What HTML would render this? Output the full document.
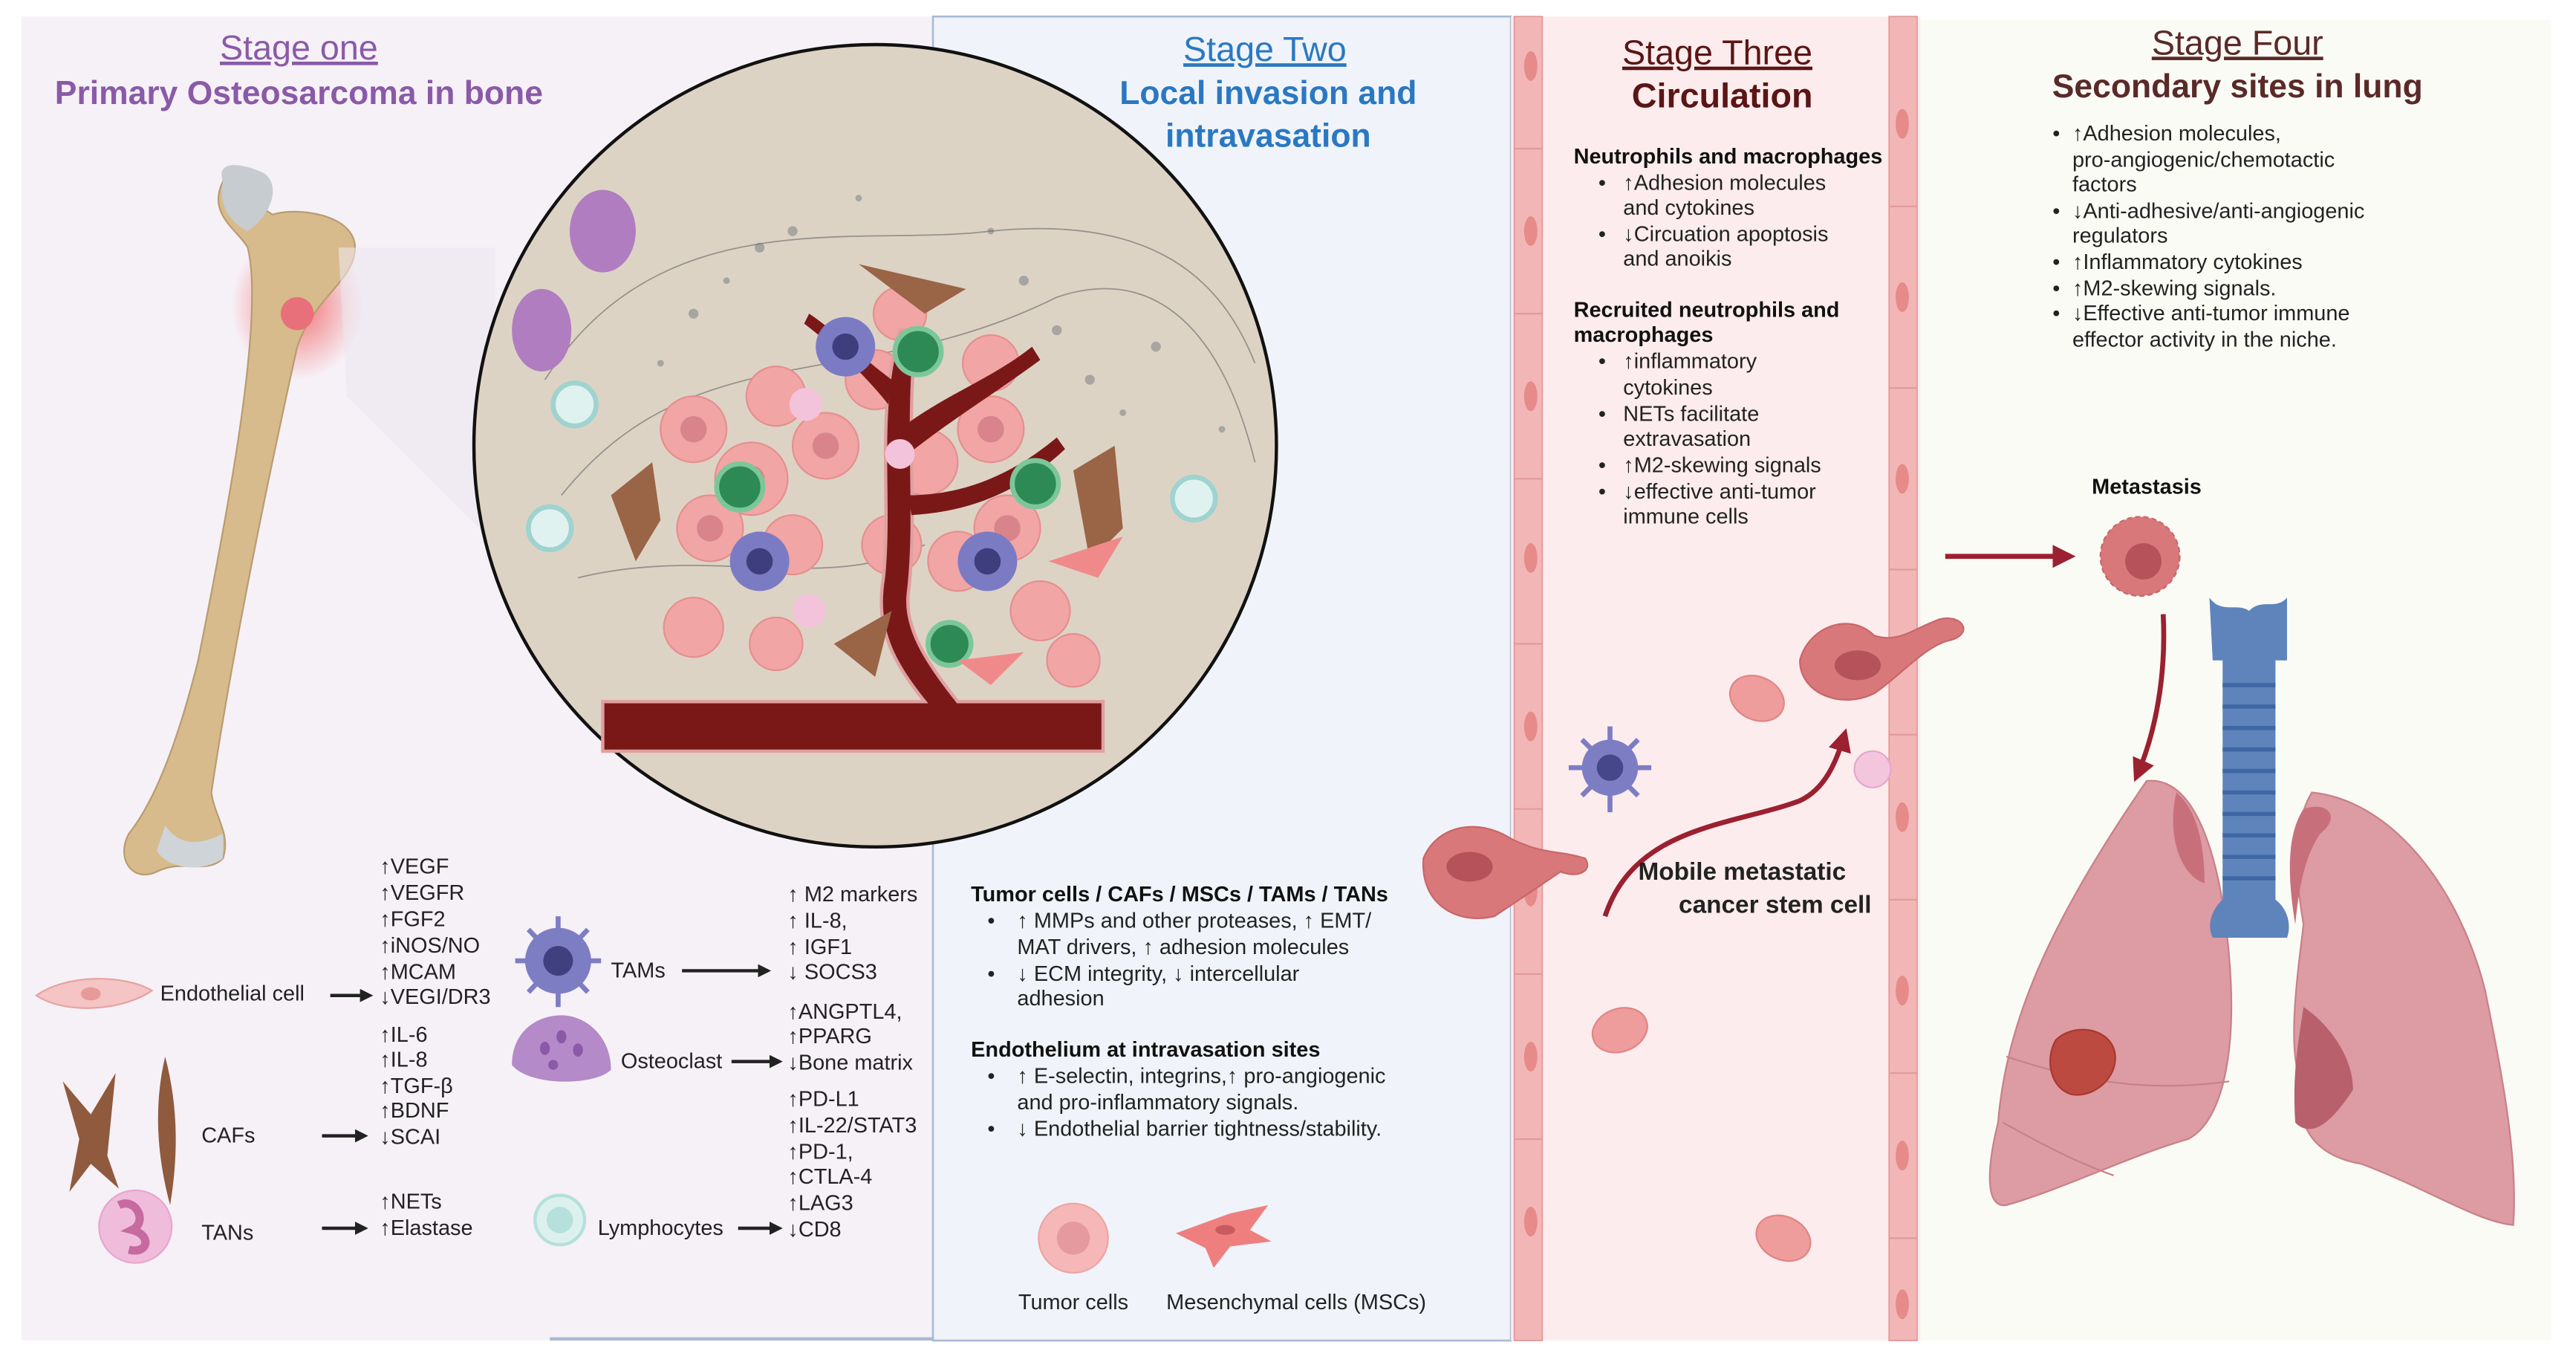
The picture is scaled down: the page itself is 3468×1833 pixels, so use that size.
<!DOCTYPE html>
<html><head><meta charset="utf-8"><style>
html,body{margin:0;padding:0;background:#fff;}
svg{display:block;}
text{font-family:"Liberation Sans Narrow","Liberation Sans",sans-serif;}
.b{font-size:13px;fill:#222;}
.bb{font-size:13px;fill:#111;font-weight:bold;}
</style></head><body>
<svg width="3468" height="1833" viewBox="0 0 1560 825" preserveAspectRatio="none" xmlns="http://www.w3.org/2000/svg">
<defs>
<radialGradient id="glow" cx="0.5" cy="0.5" r="0.5"><stop offset="0" stop-color="#f05050" stop-opacity="0.8"/><stop offset="1" stop-color="#f05050" stop-opacity="0"/></radialGradient>
<marker id="ah" markerWidth="8" markerHeight="8" refX="6" refY="4" orient="auto" markerUnits="userSpaceOnUse"><path d="M0,0 L8,4 L0,8 z" fill="#222"/></marker>
<marker id="ahr" markerWidth="14" markerHeight="14" refX="10" refY="7" orient="auto" markerUnits="userSpaceOnUse"><path d="M0,0 L14,7 L0,14 z" fill="#9b2030"/></marker>
</defs>
<rect width="1560" height="825" fill="#fff"/>
<!-- panels -->
<rect x="13" y="10" width="553" height="802" fill="#f6f1f7"/>
<rect x="565" y="10" width="350" height="802" fill="#f0f4fa" stroke="#a9b9d6" stroke-width="1.2"/>
<rect x="333" y="810" width="232" height="2" fill="#a9b9d6"/>
<rect x="915" y="10" width="248" height="802" fill="#fdeced"/>
<rect x="1163" y="12" width="382" height="800" fill="#fbfbf6"/>
<!-- stage 3 walls -->
<g fill="#f2b6b6" stroke="#e29a9a" stroke-width="0.8">
<rect x="917" y="10" width="17" height="802"/>
<rect x="1144" y="10" width="17" height="802"/>
</g>
<g fill="#e68a8a">
<ellipse cx="927" cy="40" rx="4" ry="9"/><ellipse cx="927" cy="140" rx="4" ry="9"/><ellipse cx="927" cy="240" rx="4" ry="9"/><ellipse cx="927" cy="338" rx="4" ry="9"/><ellipse cx="927" cy="440" rx="4" ry="9"/><ellipse cx="927" cy="540" rx="4" ry="9"/><ellipse cx="927" cy="640" rx="4" ry="9"/><ellipse cx="927" cy="740" rx="4" ry="9"/>
<ellipse cx="1152" cy="75" rx="4" ry="9"/><ellipse cx="1152" cy="180" rx="4" ry="9"/><ellipse cx="1152" cy="290" rx="4" ry="9"/><ellipse cx="1152" cy="395" rx="4" ry="9"/><ellipse cx="1152" cy="495" rx="4" ry="9"/><ellipse cx="1152" cy="600" rx="4" ry="9"/><ellipse cx="1152" cy="700" rx="4" ry="9"/><ellipse cx="1152" cy="790" rx="4" ry="9"/>
</g>
<g stroke="#e29a9a" stroke-width="1">
<line x1="917" y1="90" x2="934" y2="90"/><line x1="917" y1="190" x2="934" y2="190"/><line x1="917" y1="290" x2="934" y2="290"/><line x1="917" y1="390" x2="934" y2="390"/><line x1="917" y1="490" x2="934" y2="490"/><line x1="917" y1="590" x2="934" y2="590"/><line x1="917" y1="690" x2="934" y2="690"/>
<line x1="1144" y1="125" x2="1161" y2="125"/><line x1="1144" y1="235" x2="1161" y2="235"/><line x1="1144" y1="345" x2="1161" y2="345"/><line x1="1144" y1="445" x2="1161" y2="445"/><line x1="1144" y1="545" x2="1161" y2="545"/><line x1="1144" y1="650" x2="1161" y2="650"/><line x1="1144" y1="750" x2="1161" y2="750"/>
</g>
<!-- Titles -->
<g text-anchor="middle">
<text x="181" y="36" font-size="21" fill="#8a5aa8" text-decoration="underline">Stage one</text>
<text x="181" y="63" font-size="20" font-weight="bold" fill="#8a5aa8">Primary Osteosarcoma in bone</text>
<text x="766" y="37" font-size="21" fill="#2a78c2" text-decoration="underline">Stage Two </text>
<text x="768" y="63" font-size="20" font-weight="bold" fill="#2a78c2">Local invasion and</text>
<text x="768" y="89" font-size="20" font-weight="bold" fill="#2a78c2">intravasation</text>
<text x="1040" y="39" font-size="21" fill="#5a1515" text-decoration="underline">Stage Three</text>
<text x="1043" y="65" font-size="21" font-weight="bold" fill="#5a1515">Circulation</text>
<text x="1355" y="33" font-size="21" fill="#5a2a28" text-decoration="underline">Stage Four</text>
<text x="1355" y="59" font-size="20" font-weight="bold" fill="#5a2a28">Secondary sites in lung</text>
</g>
<!-- Bone -->
<ellipse cx="180" cy="185" rx="40" ry="45" fill="url(#glow)"/>
<path d="M135,110 C125,130 145,140 150,150 C160,190 140,300 120,400 C105,460 90,490 78,505 C70,520 80,535 95,528 C110,520 125,530 135,520 C140,505 130,495 128,480 C140,400 160,300 180,210 C190,180 215,170 215,150 C215,130 180,125 165,130 Z" fill="#d8bb8c" stroke="#b99c70" stroke-width="1"/>
<path d="M135,110 C130,95 150,100 160,105 C170,112 165,130 150,140 C140,135 132,125 135,110 Z" fill="#c7ccd1"/>
<path d="M100,500 C110,515 125,510 135,505 L135,520 C120,530 100,525 95,515 Z" fill="#cfd4d8"/>
<circle cx="180" cy="190" r="10" fill="#e8707a"/>
<!-- zoom cone -->
<path d="M205,150 L300,150 L300,330 L210,240 Z" fill="#ece6ee" opacity="0.6"/>
<!-- big circle -->
<circle cx="530" cy="270" r="243" fill="#ddd3c5" stroke="#111" stroke-width="2"/>
<g fill="#9a9a9a" opacity="0.8">
<circle cx="460" cy="150" r="3"/><circle cx="480" cy="140" r="3"/><circle cx="420" cy="190" r="3"/><circle cx="640" cy="200" r="3"/><circle cx="660" cy="230" r="3"/><circle cx="700" cy="210" r="3"/><circle cx="620" cy="170" r="3"/><circle cx="440" cy="170" r="2"/><circle cx="680" cy="250" r="2"/><circle cx="600" cy="140" r="2"/><circle cx="520" cy="120" r="2"/><circle cx="740" cy="260" r="2"/><circle cx="400" cy="220" r="2"/>
</g>
<g fill="none" stroke="#666" stroke-width="0.8" opacity="0.6">
<path d="M330,230 C400,120 520,150 600,140 C700,130 740,170 760,220"/>
<path d="M340,300 C420,200 520,240 640,180 C700,160 740,200 760,280"/>
<path d="M350,350 C430,330 500,360 560,330"/>
</g>
<g fill="#f1a5a5" stroke="#e58f8f" stroke-width="1">
<circle cx="420" cy="260" r="20"/><circle cx="455" cy="290" r="22"/><circle cx="430" cy="320" r="20"/><circle cx="470" cy="240" r="18"/><circle cx="500" cy="270" r="20"/><circle cx="530" cy="230" r="18"/><circle cx="560" cy="280" r="20"/><circle cx="600" cy="260" r="20"/><circle cx="610" cy="320" r="20"/><circle cx="580" cy="340" r="18"/><circle cx="630" cy="370" r="18"/><circle cx="420" cy="380" r="18"/><circle cx="540" cy="330" r="18"/><circle cx="480" cy="330" r="18"/><circle cx="545" cy="190" r="16"/><circle cx="600" cy="220" r="17"/><circle cx="650" cy="400" r="16"/><circle cx="470" cy="390" r="16"/>
</g>
<g fill="#d9848a"><circle cx="420" cy="260" r="8"/><circle cx="455" cy="290" r="8"/><circle cx="500" cy="270" r="8"/><circle cx="600" cy="260" r="8"/><circle cx="610" cy="320" r="8"/><circle cx="430" cy="320" r="8"/></g>
<!-- vessel -->
<path d="M365,425 L560,425 C540,400 530,380 535,350 C540,300 530,250 545,200 L555,200 C548,260 556,310 550,360 C548,380 560,400 580,425 L668,425 L668,455 L365,455 Z" fill="#7a1818" stroke="#e0a0a0" stroke-width="2"/>
<path d="M545,260 C570,240 600,230 625,210 L630,218 C600,240 575,255 550,275 Z" fill="#7a1818"/>
<path d="M550,300 C580,300 610,290 640,265 L645,272 C615,300 585,310 552,312 Z" fill="#7a1818"/>
<path d="M540,230 C520,215 505,200 490,190 L487,196 C505,210 522,225 538,245 Z" fill="#7a1818"/>
<!-- cells in circle -->
<g fill="#2e8a55" stroke="#7cc79a" stroke-width="3"><circle cx="448" cy="295" r="14"/><circle cx="556" cy="213" r="14"/><circle cx="627" cy="293" r="14"/><circle cx="575" cy="390" r="13"/></g>
<g fill="#7b7bc4"><circle cx="512" cy="210" r="18"/><circle cx="460" cy="340" r="18"/><circle cx="598" cy="340" r="18"/></g>
<g fill="#3e3e7e"><circle cx="512" cy="210" r="8"/><circle cx="460" cy="340" r="8"/><circle cx="598" cy="340" r="8"/></g>
<g fill="#b07dc0"><ellipse cx="365" cy="140" rx="20" ry="25"/><ellipse cx="328" cy="200" rx="18" ry="25"/></g>
<g fill="#e0f2f0" stroke="#9fd3cf" stroke-width="3"><circle cx="348" cy="245" r="13"/><circle cx="333" cy="320" r="13"/><circle cx="723" cy="302" r="13"/></g>
<g fill="#9a6446"><path d="M370,300 L395,280 L400,315 L385,340 Z"/><path d="M520,160 L585,175 L560,190 Z"/><path d="M650,285 L675,270 L680,320 L660,340 Z"/><path d="M505,390 L540,370 L530,410 Z"/></g>
<g fill="#f08a8a"><path d="M635,340 L680,325 L665,350 Z"/><path d="M580,400 L620,395 L600,415 Z"/></g>
<g fill="#f3c3dc"><circle cx="488" cy="245" r="10"/><circle cx="490" cy="370" r="10"/><circle cx="545" cy="275" r="9"/></g>
<!-- Stage one legend -->
<path d="M22,603 C40,590 75,590 92,600 C75,612 40,615 22,603 Z" fill="#f5c4c4" stroke="#e6a2a2"/>
<ellipse cx="55" cy="602" rx="6" ry="4" fill="#e79a9a"/>
<text x="97" y="606" class="b">Endothelial cell</text>
<line x1="200" y1="603" x2="224" y2="603" stroke="#222" stroke-width="2" marker-end="url(#ah)"/>
<path d="M38,655 L55,675 L70,650 L65,700 L72,720 L55,705 L42,722 L48,690 Z" fill="#8f5a3e"/>
<path d="M100,640 C108,670 108,700 103,730 C95,700 93,670 100,640 Z" fill="#8f5a3e"/>
<text x="122" y="692" class="b">CAFs</text>
<line x1="195" y1="688" x2="221" y2="688" stroke="#222" stroke-width="2" marker-end="url(#ah)"/>
<circle cx="82" cy="743" r="22" fill="#f0bcdc" stroke="#e7a6cc"/>
<path d="M72,730 C82,725 90,740 80,745 C92,748 90,760 78,757" fill="none" stroke="#c66aa0" stroke-width="5"/>
<text x="122" y="751" class="b">TANs</text>
<line x1="195" y1="744" x2="221" y2="744" stroke="#222" stroke-width="2" marker-end="url(#ah)"/>
<g class="b">
<text x="230" y="529" class="b">↑VEGF</text><text x="230" y="545" class="b">↑VEGFR</text><text x="230" y="561" class="b">↑FGF2</text><text x="230" y="577" class="b">↑iNOS/NO</text><text x="230" y="593" class="b">↑MCAM</text><text x="230" y="608" class="b">↓VEGI/DR3</text>
<text x="230" y="631" class="b">↑IL-6</text><text x="230" y="646" class="b">↑IL-8</text><text x="230" y="662" class="b">↑TGF-β</text><text x="230" y="677" class="b">↑BDNF</text><text x="230" y="693" class="b">↓SCAI</text>
<text x="230" y="732" class="b">↑NETs</text><text x="230" y="748" class="b">↑Elastase</text>
</g>
<circle cx="338" cy="582" r="20" fill="#7d7dc4"/>
<g stroke="#7d7dc4" stroke-width="3"><line x1="338" y1="555" x2="338" y2="610"/><line x1="312" y1="582" x2="364" y2="582"/><line x1="320" y1="563" x2="356" y2="601"/><line x1="356" y1="563" x2="320" y2="601"/></g>
<circle cx="338" cy="582" r="9" fill="#404080"/>
<text x="370" y="592" class="b">TAMs</text>
<line x1="413" y1="588" x2="465" y2="588" stroke="#222" stroke-width="2" marker-end="url(#ah)"/>
<path d="M310,645 C310,625 325,615 340,615 C355,615 370,628 370,648 C360,658 320,658 310,645 Z" fill="#b48ac8"/>
<g fill="#8a5aa8"><ellipse cx="330" cy="635" rx="3" ry="4"/><ellipse cx="340" cy="628" rx="3" ry="4"/><ellipse cx="350" cy="636" rx="3" ry="4"/><ellipse cx="335" cy="645" rx="3" ry="3"/></g>
<text x="376" y="647" class="b">Osteoclast</text>
<line x1="443" y1="643" x2="472" y2="643" stroke="#222" stroke-width="2" marker-end="url(#ah)"/>
<circle cx="339" cy="739" r="15" fill="#dcf1ee" stroke="#b6e0db" stroke-width="2"/><circle cx="339" cy="739" r="8" fill="#b6e0db"/>
<text x="362" y="748" class="b">Lymphocytes</text>
<line x1="447" y1="744" x2="472" y2="744" stroke="#222" stroke-width="2" marker-end="url(#ah)"/>
<g>
<text x="477" y="546" class="b">↑ M2 markers</text><text x="477" y="562" class="b">↑ IL-8,</text><text x="477" y="578" class="b">↑ IGF1</text><text x="477" y="593" class="b">↓ SOCS3</text>
<text x="477" y="617" class="b">↑ANGPTL4,</text><text x="477" y="632" class="b">↑PPARG</text><text x="477" y="648" class="b">↓Bone matrix</text>
<text x="477" y="670" class="b">↑PD-L1</text><text x="477" y="686" class="b">↑IL-22/STAT3</text><text x="477" y="702" class="b">↑PD-1,</text><text x="477" y="717" class="b">↑CTLA-4</text><text x="477" y="733" class="b">↑LAG3</text><text x="477" y="749" class="b">↓CD8</text>
</g>
<!-- Stage two text -->
<text x="588" y="546" class="bb">Tumor cells / CAFs / MSCs / TAMs / TANs</text>
<text x="598" y="562" class="b">•</text><text x="616" y="562" class="b">↑ MMPs and other proteases, ↑ EMT/</text>
<text x="616" y="578" class="b">MAT drivers, ↑ adhesion molecules</text>
<text x="598" y="594" class="b">•</text><text x="616" y="594" class="b">↓ ECM integrity, ↓ intercellular</text>
<text x="616" y="609" class="b">adhesion</text>
<text x="588" y="640" class="bb">Endothelium at intravasation sites</text>
<text x="598" y="656" class="b">•</text><text x="616" y="656" class="b">↑ E-selectin, integrins,↑ pro-angiogenic</text>
<text x="616" y="672" class="b">and pro-inflammatory signals.</text>
<text x="598" y="688" class="b">•</text><text x="616" y="688" class="b">↓ Endothelial barrier tightness/stability.</text>
<circle cx="650" cy="750" r="21" fill="#f5b7b7" stroke="#eea4a4"/><circle cx="650" cy="750" r="10" fill="#e49a9e"/>
<path d="M712,747 L745,735 L768,730 L757,745 L770,752 L745,755 L735,768 L730,756 Z" fill="#ef7f7f"/>
<ellipse cx="742" cy="745" rx="6" ry="3" fill="#c95a60"/>
<text x="650" y="793" class="b" text-anchor="middle">Tumor cells</text>
<text x="785" y="793" class="b" text-anchor="middle">Mesenchymal cells (MSCs)</text>
<!-- cancer cell crossing wall -->
<path d="M862,520 C870,500 895,495 915,508 C935,518 945,515 960,520 C965,528 955,532 945,528 C935,535 920,545 905,555 C885,560 860,550 862,520 Z" fill="#d9787a" stroke="#c86668"/>
<ellipse cx="890" cy="525" rx="14" ry="9" fill="#b5525a"/>
<!-- Stage three text -->
<text x="953" y="99" class="bb">Neutrophils and macrophages</text>
<text x="968" y="115" class="b">•</text><text x="983" y="115" class="b">↑Adhesion molecules</text>
<text x="983" y="130" class="b">and cytokines</text>
<text x="968" y="146" class="b">•</text><text x="983" y="146" class="b"> ↓Circuation apoptosis</text>
<text x="983" y="161" class="b">and anoikis</text>
<text x="953" y="192" class="bb">Recruited neutrophils and</text>
<text x="953" y="207" class="bb">macrophages</text>
<text x="968" y="223" class="b">•</text><text x="983" y="223" class="b">↑inflammatory</text>
<text x="983" y="239" class="b">cytokines</text>
<text x="968" y="255" class="b">•</text><text x="983" y="255" class="b">NETs facilitate</text>
<text x="983" y="270" class="b">extravasation</text>
<text x="968" y="286" class="b">•</text><text x="983" y="286" class="b">↑M2-skewing signals</text>
<text x="968" y="302" class="b">•</text><text x="983" y="302" class="b">↓effective anti-tumor</text>
<text x="983" y="317" class="b">immune cells</text>
<!-- stage three cells -->
<circle cx="975" cy="465" r="17" fill="#7d7dc4"/>
<g stroke="#7d7dc4" stroke-width="3"><line x1="975" y1="440" x2="975" y2="492"/><line x1="950" y1="465" x2="1000" y2="465"/><line x1="958" y1="448" x2="992" y2="482"/><line x1="992" y1="448" x2="958" y2="482"/></g>
<circle cx="975" cy="465" r="8" fill="#46468a"/>
<path d="M1090,400 C1095,380 1120,370 1135,385 C1150,390 1160,380 1175,375 C1190,372 1195,385 1180,388 C1165,392 1150,410 1135,420 C1115,430 1090,420 1090,400 Z" fill="#d9787a" stroke="#c86668"/>
<ellipse cx="1125" cy="403" rx="14" ry="9" fill="#b5525a"/>
<circle cx="1134" cy="466" r="11" fill="#f4c6de" stroke="#e7a6cc"/>
<g fill="#ee9c9c" stroke="#e18585"><ellipse cx="1064" cy="423" rx="17" ry="13" transform="rotate(25 1064 423)"/><ellipse cx="981" cy="624" rx="17" ry="13" transform="rotate(-20 981 624)"/><ellipse cx="1080" cy="750" rx="17" ry="13" transform="rotate(25 1080 750)"/></g>
<path d="M972,555 C990,500 1050,500 1090,485 C1105,478 1112,462 1117,445" fill="none" stroke="#9b2030" stroke-width="3" marker-end="url(#ahr)"/>
<text x="1055" y="533" font-size="15" font-weight="bold" fill="#222" text-anchor="middle" style="font-family:'Liberation Sans',sans-serif">Mobile metastatic</text>
<text x="1075" y="553" font-size="15" font-weight="bold" fill="#222" text-anchor="middle" style="font-family:'Liberation Sans',sans-serif">cancer stem cell</text>
<!-- Stage four text -->
<g>
<text x="1243" y="85" class="b">•</text><text x="1255" y="85" class="b">↑Adhesion molecules,</text>
<text x="1255" y="101" class="b">pro-angiogenic/chemotactic</text>
<text x="1255" y="116" class="b">factors</text>
<text x="1243" y="132" class="b">•</text><text x="1255" y="132" class="b">↓Anti-adhesive/anti-angiogenic</text>
<text x="1255" y="147" class="b">regulators</text>
<text x="1243" y="163" class="b">•</text><text x="1255" y="163" class="b">↑Inflammatory cytokines</text>
<text x="1243" y="179" class="b">•</text><text x="1255" y="179" class="b">↑M2-skewing signals.</text>
<text x="1243" y="194" class="b">•</text><text x="1255" y="194" class="b">↓Effective anti-tumor immune</text>
<text x="1255" y="210" class="b">effector activity in the niche.</text>
</g>
<text x="1300" y="299" class="bb" font-size="14" text-anchor="middle">Metastasis</text>
<line x1="1178" y1="337" x2="1253" y2="337" stroke="#9b2030" stroke-width="3" marker-end="url(#ahr)"/>
<circle cx="1296" cy="337" r="24" fill="#d9787a" stroke="#c86668" stroke-dasharray="3 2"/>
<circle cx="1298" cy="340" r="11" fill="#b5525a"/>
<path d="M1310,372 C1312,410 1305,445 1294,470" fill="none" stroke="#9b2030" stroke-width="3" marker-end="url(#ahr)"/>
<!-- lungs -->
<path d="M1300,473 C1330,470 1345,520 1350,580 C1355,640 1345,680 1325,690 C1290,700 1250,720 1215,730 C1200,732 1205,700 1210,680 C1215,620 1240,560 1300,473 Z" fill="#dd9ba3" stroke="#c98088"/>
<path d="M1318,480 C1330,490 1335,510 1335,535 C1320,530 1312,505 1318,480 Z" fill="#c7707c"/>
<path d="M1215,640 C1260,655 1300,662 1350,655" fill="none" stroke="#c98088"/>
<path d="M1213,680 C1240,695 1260,705 1280,712" fill="none" stroke="#c98088"/>
<path d="M1245,630 C1255,620 1275,622 1280,635 C1285,650 1270,665 1255,663 C1242,660 1238,642 1245,630 Z" fill="#bd4a40" stroke="#a8382f"/>
<path d="M1400,480 C1450,485 1490,540 1505,600 C1515,650 1525,700 1522,742 C1500,740 1470,720 1430,705 C1400,700 1390,680 1395,660 C1385,640 1390,600 1395,560 C1390,530 1388,500 1400,480 Z" fill="#dd9ba3" stroke="#c98088"/>
<path d="M1395,490 C1410,485 1418,495 1405,505 C1395,520 1392,540 1390,560 C1385,530 1385,505 1395,490 Z" fill="#c7707c"/>
<path d="M1395,610 C1410,620 1425,640 1425,660 C1412,680 1400,690 1390,680 C1388,650 1392,630 1395,610 Z" fill="#b8606c"/>
<!-- trachea -->
<path d="M1338,362 C1345,372 1355,365 1362,370 C1370,362 1378,370 1385,362 L1385,400 L1378,400 L1378,545 C1385,550 1388,560 1385,568 L1340,568 C1336,560 1340,550 1346,545 L1346,400 L1340,400 Z" fill="#5e84bb"/>
<g stroke="#3f67a4" stroke-width="2.5"><line x1="1346" y1="415" x2="1378" y2="415"/><line x1="1346" y1="428" x2="1378" y2="428"/><line x1="1346" y1="441" x2="1378" y2="441"/><line x1="1346" y1="454" x2="1378" y2="454"/><line x1="1346" y1="467" x2="1378" y2="467"/><line x1="1346" y1="480" x2="1378" y2="480"/><line x1="1346" y1="493" x2="1378" y2="493"/><line x1="1346" y1="506" x2="1378" y2="506"/><line x1="1346" y1="519" x2="1378" y2="519"/><line x1="1346" y1="532" x2="1378" y2="532"/></g>
</svg>
</body></html>
